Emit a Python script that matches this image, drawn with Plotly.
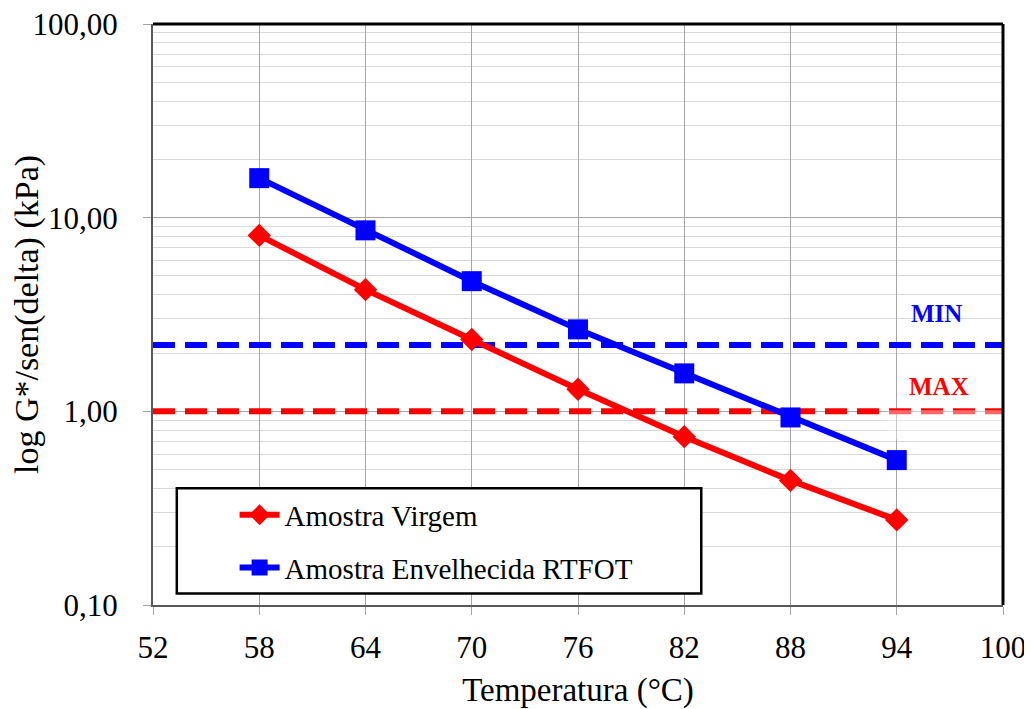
import math
import plotly.graph_objects as go

temps = [58, 64, 70, 76, 82, 88, 94]
virgem = [8.1, 4.25, 2.35, 1.30, 0.74, 0.44, 0.275]
rtfot = [16.0, 8.6, 4.7, 2.65, 1.57, 0.93, 0.56]
min_val = 2.2
max_val = 1.0
x_range = [52, 100]
x_ticks = [52, 58, 64, 70, 76, 82, 88, 94, 100]
y_ticks = [0.1, 1, 10, 100]
y_ticktext = ["0,10", "1,00", "10,00", "100,00"]

FONT = "Liberation Serif"
minor_vals = [m * d for d in (0.1, 1, 10) for m in range(2, 10)]

fig = go.Figure()
fig.add_trace(go.Scatter(x=x_range, y=[min_val, min_val], mode="lines",
                         line=dict(color="#0000FF", width=6, dash="22px,10px"),
                         showlegend=False, hoverinfo="skip"))
fig.add_trace(go.Scatter(x=x_range, y=[max_val, max_val], mode="lines",
                         line=dict(color="#FF0000", width=6, dash="22px,10px"),
                         showlegend=False, hoverinfo="skip"))
fig.add_trace(go.Scatter(x=temps, y=virgem, mode="lines+markers", name="Amostra Virgem",
                         legendgroup="a",
                         line=dict(color="#FF0000", width=6),
                         marker=dict(symbol="diamond", size=18, color="#FF0000")))
fig.add_trace(go.Scatter(x=temps, y=rtfot, mode="lines+markers", name="Amostra Envelhecida RTFOT",
                         legendgroup="b",
                         line=dict(color="#0000FF", width=6),
                         marker=dict(symbol="square", size=20, color="#0000FF")))

# faint white text box behind the MAX label (as in the reference)
fig.add_shape(type="rect", xref="paper", yref="paper", x0=0.863, x1=1.0, y0=0.285, y1=0.335,
              line=dict(width=0), fillcolor="rgba(255,255,255,0.4)", layer="above")

fig.add_annotation(x=0.922, xref="paper", xanchor="center", y=math.log10(min_val), yref="y",
                   yshift=32, text="<b>MIN</b>", showarrow=False,
                   font=dict(family=FONT, size=25, color="#0000FF"))
fig.add_annotation(x=0.925, xref="paper", xanchor="center", y=math.log10(max_val), yref="y",
                   yshift=25, text="<b>MAX</b>", showarrow=False,
                   font=dict(family=FONT, size=25, color="#FF0000"))

# legend box
fig.add_shape(type="rect", xref="paper", yref="paper", x0=0.028, x1=0.645, y0=0.02, y1=0.201,
              line=dict(color="black", width=2.5), fillcolor="white", layer="above")

fig.update_layout(
    width=1024, height=701,
    margin=dict(l=145, r=29, t=16, b=104),
    paper_bgcolor="white", plot_bgcolor="white",
    font=dict(family=FONT, size=30, color="black"),
    showlegend=True,
    legend=dict(x=0.096, y=0.199, xanchor="left", yanchor="top", bgcolor="rgba(0,0,0,0)",
                borderwidth=0, font=dict(family=FONT, size=29), itemwidth=40,
                traceorder="grouped", tracegroupgap=12),
    xaxis=dict(range=x_range, tickvals=x_ticks, showgrid=True, gridcolor="#A6A6A6", gridwidth=1,
               zeroline=False, showline=True, linecolor="#595959", linewidth=2, mirror=False,
               ticks="outside", ticklen=8, tickcolor="#A6A6A6", automargin=False,
               ticklabelstandoff=6, ticklabeloverflow="allow",
               title=dict(text="Temperatura (°C)", font=dict(size=33), standoff=14),
               tickfont=dict(size=31)),
    yaxis=dict(type="log", range=[-1, 2], tickvals=y_ticks, ticktext=y_ticktext,
               showgrid=True, gridcolor="#A6A6A6", gridwidth=1, zeroline=False,
               showline=True, linecolor="#595959", linewidth=2, automargin=False,
               ticks="outside", ticklen=8, tickcolor="#A6A6A6",
               ticklabelstandoff=19, ticklabeloverflow="allow",
               minor=dict(tickvals=minor_vals, showgrid=True, gridcolor="#D9D9D9", gridwidth=1, ticks=""),
               title=dict(text="log G*/sen(delta) (kPa)", font=dict(size=34), standoff=12),
               tickfont=dict(size=31)),
)
# top and right border
fig.add_shape(type="line", xref="paper", yref="paper", x0=0, x1=1, y0=1, y1=1,
              line=dict(color="black", width=3))
fig.add_shape(type="line", xref="paper", yref="paper", x0=1, x1=1, y0=0, y1=1,
              line=dict(color="black", width=3))

fig.write_html("out.html")
